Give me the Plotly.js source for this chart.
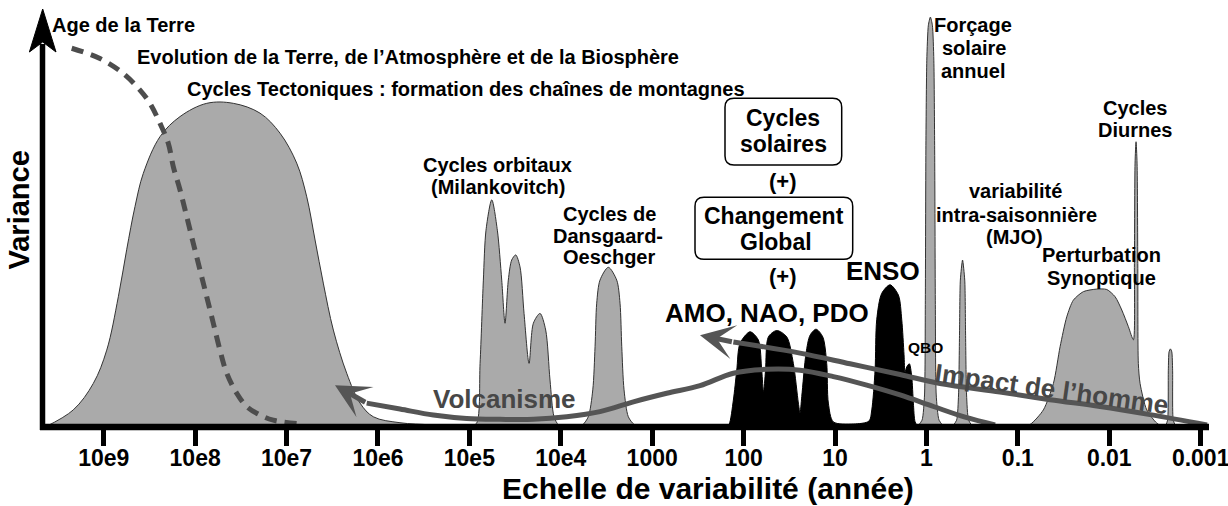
<!DOCTYPE html>
<html><head><meta charset="utf-8">
<script src="https://cdn.plot.ly/plotly-3.0.1.min.js"></script>
<style>html,body{margin:0;padding:0;background:#fff;}#chart{width:1228px;height:506px;}</style>
</head><body><div id="chart"></div>
<script>
// x : log10(échelle de variabilité, en années) ; y : variance (unités arbitraires, 0-100)
const tickVals = [9, 8, 7, 6, 5, 4, 3, 2, 1, 0, -1, -2, -3];
const tickText = ['10e9', '10e8', '10e7', '10e6', '10e5', '10e4', '1000', '100', '10', '1', '0.1', '0.01', '0.001'];

// Cycles tectoniques
const tectoX = [9.642, 9.333, 9.114, 8.967, 8.840, 8.749, 8.658, 8.567, 8.384, 8.165, 7.873, 7.582, 7.290, 7.071, 6.889, 6.779, 6.688, 6.598, 6.488, 6.342, 6.196, 6.051, 5.759, 5.430, 5.212];
const tectoY = [0, 4.0, 10.2, 18.0, 30.5, 41.5, 51.6, 59.4, 68.0, 72.7, 75.8, 75.8, 73.5, 68.8, 61.8, 53.9, 43.8, 33.7, 22.7, 12.6, 5.6, 2.4, 1.0, 0.5, 0];
// Evolution de la Terre (tirets)
const evolX = [9.350, 9.041, 8.786, 8.603, 8.494, 8.384, 8.293, 8.239, 8.165, 8.092, 8.020, 7.947, 7.873, 7.801, 7.728, 7.654, 7.545, 7.436, 7.290, 7.145, 6.889];
const evolY = [88.7, 86.3, 82.8, 78.9, 75.8, 71.1, 66.4, 61.0, 55.5, 49.3, 43.0, 36.8, 30.5, 24.3, 18.0, 12.6, 7.9, 4.8, 2.8, 1.6, 0.8];
// Cycles orbitaux (Milankovitch)
const orbX = [4.993, 4.920, 4.883, 4.847, 4.818, 4.755, 4.694, 4.646, 4.610, 4.574, 4.537, 4.493, 4.446, 4.402, 4.347, 4.300, 4.227, 4.165, 4.118, 4.074, 4.027, 3.986];
const orbY = [0, 0.9, 14.9, 34.4, 46.1, 53.2, 46.1, 34.4, 24.3, 34.4, 39.1, 40.3, 37.5, 26.6, 14.9, 24.3, 26.6, 22.7, 11.0, 2.4, 0.5, 0];
// Dansgaard-Oeschger
const dgX = [3.811, 3.757, 3.699, 3.650, 3.625, 3.607, 3.571, 3.480, 3.388, 3.352, 3.333, 3.308, 3.261, 3.199, 3.133];
const dgY = [0, 0.6, 2.4, 8.7, 18.8, 29.0, 34.4, 37.4, 34.4, 29.0, 18.8, 8.7, 2.4, 0.6, 0];
// AMO, NAO, PDO, ENSO, QBO (noir)
const oscX = [2.192, 2.159, 2.112, 2.075, 2.039, 1.930, 1.839, 1.802, 1.782, 1.760, 1.729, 1.638, 1.528, 1.456, 1.401, 1.383, 1.364, 1.317, 1.273, 1.208, 1.134, 1.091, 1.073, 1.018, 0.799, 0.628, 0.598, 0.562, 0.544, 0.489, 0.398, 0.307, 0.270, 0.245, 0.234, 0.215, 0.187, 0.161, 0.143, 0.124, 0.092];
const oscY = [0, 0.6, 6.3, 13.3, 19.6, 22.3, 20.4, 13.3, 8.2, 13.3, 21.1, 22.6, 21.1, 14.9, 5.6, 3.3, 7.1, 17.3, 21.5, 22.9, 21.1, 14.9, 5.6, 1.2, 0.7, 1.4, 4.0, 13.3, 25.1, 31.3, 33.3, 30.9, 25.1, 16.9, 12.9, 14.1, 14.8, 11.8, 5.6, 1.2, 0];
// Forçage solaire annuel
const annX = [0.103, 0.048, 0.021, 0.012, 0.006, -0.004, -0.021, -0.043, -0.065, -0.081, -0.090, -0.097, -0.107, -0.138, -0.193];
const annY = [0, 1.6, 7.5, 29.7, 64.9, 85.9, 94.1, 96.0, 94.1, 85.9, 64.9, 29.7, 7.5, 1.6, 0];
// Variabilité intra-saisonnière (MJO)
const mjoX = [-0.280, -0.330, -0.351, -0.362, -0.371, -0.395, -0.419, -0.428, -0.439, -0.461, -0.510];
const mjoY = [0, 1.6, 7.5, 22.0, 34.4, 39.1, 34.4, 22.0, 7.5, 1.6, 0];
// Perturbation synoptique + cycles diurnes
const synX = [-1.024, -1.134, -1.279, -1.389, -1.462, -1.535, -1.607, -1.717, -1.863, -1.973, -2.064, -2.137, -2.209, -2.264, -2.275, -2.282, -2.293, -2.304, -2.312, -2.318, -2.337, -2.410, -2.520, -2.589];
const synY = [0, 0.6, 4.0, 10.2, 18.8, 25.8, 29.7, 31.7, 32.3, 32.2, 30.5, 27.4, 23.5, 20.4, 38.3, 61.8, 66.8, 61.8, 38.3, 14.9, 10.2, 4.0, 0.9, 0];
// Pic haute fréquence
const hfX = [-2.611, -2.638, -2.646, -2.654, -2.669, -2.684, -2.693, -2.700, -2.731];
const hfY = [0, 1.6, 13.3, 17.6, 18.3, 17.6, 13.3, 1.6, 0];
// Volcanisme (premier point = pointe de la flèche)
const volcX = [6.470, 6.123, 5.759, 5.394, 5.029, 4.665, 4.300, 3.935, 3.571, 3.206, 2.841, 2.477, 2.112, 1.747, 1.383, 1.018, 0.653, 0.289, -0.076, -0.423, -0.751];
const volcY = [9.8, 5.6, 4.2, 2.8, 2.0, 1.8, 1.8, 2.4, 3.6, 5.9, 7.9, 9.7, 12.6, 13.5, 13.3, 11.8, 9.8, 7.5, 4.8, 2.3, 0.5];
// Impact de l'homme (premier point = pointe de la flèche)
const humX = [2.477, 2.112, 1.383, 0.836, 0.289, -0.149, -0.805, -1.352, -1.899, -2.446, -3.070];
const humY = [21.5, 19.9, 17.3, 14.8, 12.3, 10.2, 8.2, 6.4, 4.8, 2.9, 0.5];

const FONT = 'Liberation Sans, Arial, Helvetica, sans-serif';
const GRAY = '#aaaaaa', EDGE = '#333333', LINE = '#555555';
const W = 1228, H = 506, ML = 40, MR = 19, MT = 0, MB = 79;
const PW = W - ML - MR, PH = H - MT - MB;
const PX = p => (p - ML) / PW;
const PY = p => (H - MB - p) / PH;

function area(x, y, fill, edge, sm) {
  return {x, y, type: 'scatter', mode: 'lines', fill: 'toself', fillcolor: fill,
    line: {color: edge, width: 1, shape: 'spline', smoothing: sm}, hoverinfo: 'skip'};
}
function curve(x, y, color, dash) {
  return {x, y, type: 'scatter', mode: 'lines',
    line: {color, width: 5, shape: 'spline', smoothing: 1, dash: dash || 'solid'}, hoverinfo: 'skip'};
}

const data = [
  area(tectoX, tectoY, GRAY, EDGE, 1),
  area(orbX, orbY, GRAY, EDGE, 0.8),
  area(dgX, dgY, GRAY, EDGE, 0.8),
  area(annX, annY, GRAY, EDGE, 0.6),
  area(mjoX, mjoY, GRAY, EDGE, 0.6),
  area(synX, synY, GRAY, EDGE, 0.7),
  area(hfX, hfY, GRAY, EDGE, 0.6),
  area(oscX, oscY, '#000000', '#000000', 0.8),
  curve(evolX, evolY, '#4d4d4d', '12px,8px'),
  curve(volcX.slice(1), volcY.slice(1), LINE),
  curve(humX.slice(1), humY.slice(1), LINE)
];

function lab(t, cx, base, size, o) {
  return Object.assign({text: t, xref: 'paper', yref: 'paper', x: PX(cx), y: PY(base - 0.35 * size),
    xanchor: 'center', yanchor: 'middle', showarrow: false,
    font: {family: FONT, size: size, weight: 700, color: '#000'}}, o || {});
}
function arrow(xs, ys) {
  return {x: xs[0], y: ys[0], ax: xs[1], ay: ys[1], xref: 'x', yref: 'y', axref: 'x', ayref: 'y',
    text: '', showarrow: true, arrowhead: 3, arrowsize: 1.15, arrowwidth: 5, arrowcolor: LINE};
}

const annotations = [
  lab('Age de la Terre', 123.5, 32, 20),
  lab('Evolution de la Terre, de l’Atmosphère et de la Biosphère', 408, 64, 20),
  lab('Cycles Tectoniques : formation des chaînes de montagnes', 466, 95.5, 20),
  lab('Cycles orbitaux', 497.5, 171.5, 20),
  lab('(Milankovitch)', 498, 193.5, 20),
  lab('Cycles de', 609, 221, 20),
  lab('Dansgaard-', 607.5, 242.7, 20),
  lab('Oeschger', 609, 264.3, 20),
  lab('Cycles', 783, 126, 23),
  lab('solaires', 783.5, 152, 23),
  lab('(+)', 783.3, 188.7, 22),
  lab('Changement', 774, 224, 23),
  lab('Global', 776, 250, 23),
  lab('(+)', 783.3, 283.7, 22),
  lab('AMO, NAO, PDO', 766.7, 321.7, 26),
  lab('ENSO', 883.3, 280, 26),
  lab('QBO', 925, 353, 15.5),
  lab('Forçage', 973.3, 31.7, 20),
  lab('solaire', 974, 55, 20),
  lab('annuel', 973.3, 78.3, 20),
  lab('Cycles', 1135, 115, 20),
  lab('Diurnes', 1135, 137, 20),
  lab('variabilité', 1015, 198.3, 20),
  lab('intra-saisonnière', 1016, 221.7, 20),
  lab('(MJO)', 1014, 244, 20),
  lab('Perturbation', 1101, 261.7, 20),
  lab('Synoptique', 1101, 285, 20),
  lab('Volcanisme', 504, 408.3, 26, {font: {family: FONT, size: 26, weight: 700, color: '#474747'}}),
  {text: 'Impact de l’homme', xref: 'paper', yref: 'paper', x: PX(1052), y: PY(388.5), xanchor: 'center', yanchor: 'middle',
   showarrow: false, textangle: 8, font: {family: FONT, size: 26, weight: 700, color: '#474747'}},
  {text: 'Echelle de variabilité (année)', xref: 'paper', yref: 'paper', x: PX(707.5), y: PY(488.3),
   xanchor: 'center', yanchor: 'middle', showarrow: false, font: {family: FONT, size: 30, weight: 700, color: '#000'}},
  {text: 'Variance', xref: 'paper', yref: 'paper', x: PX(18.5), y: PY(210), xanchor: 'center', yanchor: 'middle',
   showarrow: false, textangle: -90, font: {family: FONT, size: 29, weight: 700, color: '#000'}},
  arrow(volcX, volcY),
  arrow(humX, humY)
];

function rrect(x0, y0, x1, y1, r) {
  const f = (a, b) => PX(a).toFixed(5) + ',' + PY(b).toFixed(5);
  return 'M' + f(x0 + r, y0) + ' L' + f(x1 - r, y0) + ' Q' + f(x1, y0) + ' ' + f(x1, y0 + r) +
    ' L' + f(x1, y1 - r) + ' Q' + f(x1, y1) + ' ' + f(x1 - r, y1) +
    ' L' + f(x0 + r, y1) + ' Q' + f(x0, y1) + ' ' + f(x0, y1 - r) +
    ' L' + f(x0, y0 + r) + ' Q' + f(x0, y0) + ' ' + f(x0 + r, y0) + ' Z';
}
function poly(pts) {
  return 'M' + pts.map(p => PX(p[0]).toFixed(5) + ',' + PY(p[1]).toFixed(5)).join(' L') + ' Z';
}

const shapes = [
  {type: 'line', xref: 'paper', yref: 'paper', x0: 0, x1: 1, y0: PY(427), y1: PY(427), line: {color: '#000', width: 6.5}},
  {type: 'line', xref: 'paper', yref: 'paper', x0: PX(42.5), x1: PX(42.5), y0: PY(430), y1: PY(44), line: {color: '#000', width: 5.5}},
  {type: 'path', xref: 'paper', yref: 'paper', path: poly([[42.7, 9], [56, 52], [42.7, 42], [29.4, 52]]), fillcolor: '#000', line: {color: '#000', width: 1}},
  {type: 'path', xref: 'paper', yref: 'paper', path: rrect(725, 98.3, 841.7, 165, 9), fillcolor: 'rgba(0,0,0,0)', line: {color: '#000', width: 1.5}},
  {type: 'path', xref: 'paper', yref: 'paper', path: rrect(695, 197.3, 852.7, 259.3, 9), fillcolor: 'rgba(0,0,0,0)', line: {color: '#000', width: 1.5}}
];

const layout = {
  width: W, height: H, margin: {l: ML, r: MR, t: MT, b: MB, pad: 0},
  paper_bgcolor: '#fff', plot_bgcolor: '#fff', showlegend: false, hovermode: false,
  xaxis: {type: 'linear', range: [9.697, -3.091], tickvals: tickVals, ticktext: tickText,
    ticks: 'outside', ticklen: 18, tickwidth: 5, tickcolor: '#000', showgrid: false, zeroline: false, showline: false,
    ticklabeloverflow: 'allow', ticklabelstandoff: -8,
    tickfont: {family: FONT, size: 23, weight: 700, color: '#000'}, fixedrange: true},
  yaxis: {range: [0, 100], showgrid: false, zeroline: false, showline: false, showticklabels: false, ticks: '', fixedrange: true},
  annotations, shapes
};

Plotly.newPlot('chart', data, layout, {displayModeBar: false, staticPlot: true});
</script></body></html>
